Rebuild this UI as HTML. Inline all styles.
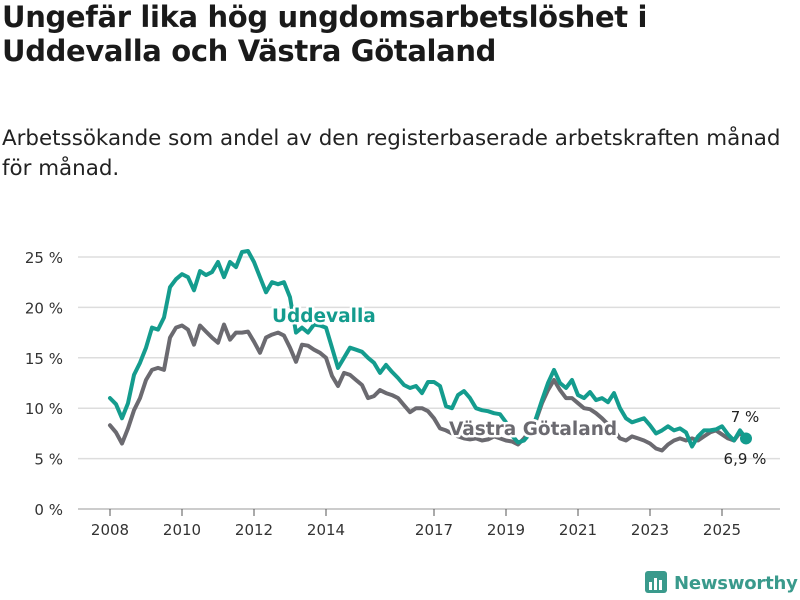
<!DOCTYPE html>
<html><head><meta charset="utf-8"><style>
body{margin:0;background:#fff;font-family:"Liberation Sans","DejaVu Sans",sans-serif;}
#wrap{position:relative;width:800px;height:600px;overflow:hidden;}
h1{position:absolute;left:2px;top:0;margin:0;font-size:29px;line-height:34px;font-weight:bold;color:#1a1a1a;font-family:"DejaVu Sans",sans-serif;letter-spacing:-0.35px}
p.sub{position:absolute;left:2px;top:124px;margin:0;font-size:21.4px;line-height:30px;color:#222;font-family:"DejaVu Sans",sans-serif;letter-spacing:0}
</style></head><body><div id="wrap">
<h1>Ungefär lika hög ungdomsarbetslöshet i<br>Uddevalla och Västra Götaland</h1>
<p class="sub">Arbetssökande som andel av den registerbaserade arbetskraften månad<br>för månad.</p>
<svg id="chart" width="800" height="600" style="position:absolute;left:0;top:0"></svg>
</div>
<script>
const yTicks=[0,5,10,15,20,25];
const yTickLabels=["0 %","5 %","10 %","15 %","20 %","25 %"];
const xYears=[2008,2010,2012,2014,2017,2019,2021,2023,2025];
const monthsUdd=[0,2,4,6,8,10,12,14,16,18,20,22,24,26,28,30,32,34,36,38,40,42,44,46,48,50,52,54,56,58,60,62,64,66,68,70,72,74,76,78,80,82,84,86,88,90,92,94,96,98,100,102,104,106,108,110,112,114,116,118,120,122,124,126,128,130,132,134,136,138,140,142,144,146,148,150,152,154,156,158,160,162,164,166,168,170,172,174,176,178,180,182,184,186,188,190,192,194,196,198,200,202,204,206,208,210,212];
const uddevalla=[11.0,10.4,9.0,10.5,13.3,14.5,16.0,18.0,17.8,19.0,22.0,22.8,23.3,23.0,21.7,23.6,23.2,23.5,24.5,23.0,24.5,24.0,25.5,25.6,24.5,23.0,21.5,22.5,22.3,22.5,21.0,17.5,18.0,17.5,18.3,18.2,18.0,16.0,14.0,15.0,16.0,15.8,15.6,15.0,14.5,13.5,14.3,13.6,13.0,12.3,12.0,12.2,11.5,12.6,12.6,12.2,10.2,10.0,11.3,11.7,11.0,10.0,9.8,9.7,9.5,9.4,8.6,7.3,6.6,6.8,7.5,9.0,10.8,12.5,13.8,12.5,12.0,12.8,11.3,11.0,11.6,10.8,11.0,10.6,11.5,10.0,9.0,8.6,8.8,9.0,8.3,7.5,7.8,8.2,7.8,8.0,7.6,6.2,7.2,7.8,7.8,7.9,8.2,7.4,6.8,7.8,7.0];
const monthsVG=monthsUdd.slice();
const vastra=[8.3,7.6,6.5,8.0,9.8,11.0,12.8,13.8,14.0,13.8,17.0,18.0,18.2,17.8,16.3,18.2,17.6,17.0,16.5,18.3,16.8,17.5,17.5,17.6,16.6,15.5,17.0,17.3,17.5,17.2,16.0,14.6,16.3,16.2,15.8,15.5,15.0,13.2,12.2,13.5,13.3,12.8,12.3,11.0,11.2,11.8,11.5,11.3,11.0,10.3,9.6,10.0,10.0,9.7,9.0,8.0,7.8,7.5,7.2,7.0,6.9,7.0,6.8,6.9,7.2,7.0,6.8,6.7,6.4,7.0,7.8,8.8,10.5,11.8,12.8,11.8,11.0,11.0,10.5,10.0,9.9,9.5,9.0,8.4,7.8,7.0,6.8,7.2,7.0,6.8,6.5,6.0,5.8,6.4,6.8,7.0,6.8,7.0,6.8,7.2,7.6,7.8,7.4,7.0,6.8,7.6,6.9];
const lastLabels=["7 %","6,9 %"];

const NS="http://www.w3.org/2000/svg";
const svg=document.getElementById('chart');
const X=m=>110+m*3;
const Y=v=>509-v*10.08;
function el(t,a,p){const e=document.createElementNS(NS,t);for(const k in a)e.setAttribute(k,a[k]);(p||svg).appendChild(e);return e;}
yTicks.forEach((t,i)=>{
  const g=el('line',{x1:78,x2:780,y1:Y(t),y2:Y(t),stroke:t===0?'#bbb':'#ddd','stroke-width':1.5});
  
  
  const l=el('text',{x:63,y:Y(t)+6,'text-anchor':'end','font-size':15,fill:'#333','font-family':'DejaVu Sans, sans-serif'});
  l.textContent=yTickLabels[i];
  
  
});
xYears.forEach(yr=>{
  const x=X((yr-2008)*12);
  const tk=el('line',{x1:x,x2:x,y1:509,y2:516,stroke:'#555','stroke-width':1});
  
  
  const l=el('text',{x:x,y:535,'text-anchor':'middle','font-size':15,fill:'#333','font-family':'DejaVu Sans, sans-serif'});
  l.textContent=yr;
  
  
});
function path(ms,vs,col,name){
  const d=ms.map((m,i)=>(i?'L':'M')+X(m).toFixed(1)+' '+Y(vs[i]).toFixed(1)).join(' ');
  const p=el('path',{d:d,fill:'none',stroke:col,'stroke-width':4,'stroke-linejoin':'round','stroke-linecap':'round'});
  
  
}
path(monthsVG,vastra,'#6b6a70','vastra-gotaland-line');
path(monthsUdd,uddevalla,'#149c8e','uddevalla-line');
function label(x,y,txt,col,name){
  const t=el('text',{x:x,y:y,'font-size':18.5,'font-weight':'bold',fill:col,stroke:'#fff','stroke-width':5,'paint-order':'stroke','stroke-linejoin':'round','font-family':'DejaVu Sans, sans-serif'});
  t.textContent=txt;
  
  
}
label(272,322,'Uddevalla','#149c8e','uddevalla-label');
label(449,435,'Västra Götaland','#6b6a70','vastra-gotaland-label');
const lm=monthsUdd[monthsUdd.length-1];
const dot=el('circle',{cx:X(lm),cy:Y(uddevalla[uddevalla.length-1]),r:6,fill:'#149c8e'});


const v1=el('text',{x:745,y:422,'text-anchor':'middle','font-size':15,fill:'#222','font-family':'DejaVu Sans, sans-serif'});
v1.textContent=lastLabels[0];


const v2=el('text',{x:745,y:464,'text-anchor':'middle','font-size':15,fill:'#222','font-family':'DejaVu Sans, sans-serif'});
v2.textContent=lastLabels[1];


const lg=el('g',{});


el('rect',{x:645,y:571,width:22,height:22,rx:3,fill:'#3a9a8c'},lg);
el('rect',{x:649,y:582,width:3,height:8,fill:'#fff'},lg);
el('rect',{x:654,y:578,width:3,height:12,fill:'#fff'},lg);
el('rect',{x:659,y:580,width:3,height:10,fill:'#fff'},lg);
const lt=el('text',{x:674,y:589,'font-size':18,'font-weight':'bold',fill:'#3a9a8c','font-family':'DejaVu Sans, sans-serif','letter-spacing':'-0.2'},lg);
lt.textContent='Newsworthy';
</script></body></html>
